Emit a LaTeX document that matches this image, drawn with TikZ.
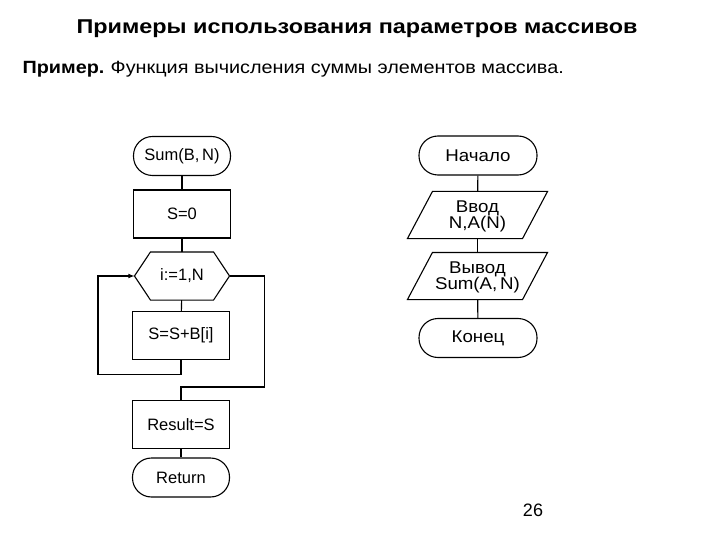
\documentclass[tikz,border=0pt]{standalone}
\usepackage{fontspec}
\setmainfont{Liberation Sans}
\newfontfamily\titlefont[FakeStretch=1.17]{Liberation Sans}
\newfontfamily\subfont[FakeStretch=1.12]{Liberation Sans}
\newfontfamily\chartfont[FakeStretch=1.1]{Liberation Sans}
\usetikzlibrary{positioning}

\tikzset{
  termbox/.style={draw, rounded corners=19pt, minimum width=97pt, minimum height=39pt, font=\fontsize{16.5}{18}\selectfont},
  procbox/.style={draw, minimum width=97pt, minimum height=48pt, font=\fontsize{16.5}{18}\selectfont},
  hexbox/.style={minimum width=94pt, minimum height=47pt, font=\fontsize{16.5}{18}\selectfont},
  iobox/.style={minimum width=139pt, minimum height=46pt, inner sep=0pt, align=center, font=\chartfont\fontsize{17}{16}\selectfont},
  startbox/.style={draw, rounded corners=19pt, minimum width=118pt, minimum height=39pt, font=\chartfont\fontsize{17}{20}\selectfont},
}

\begin{document}
\begin{tikzpicture}[x=1pt, y=-1pt, line width=1.1pt]
  \useasboundingbox (0,0) rectangle (720,540);

  % headings
  \node[anchor=base, font=\titlefont\bfseries\fontsize{20}{24}\selectfont] (title) at (357,34) {Примеры использования параметров массивов};
  \node[anchor=base west, inner sep=0pt, font=\subfont\fontsize{17.7}{20}\selectfont] (subtitle) at (22,74) {\textbf{Пример.}\hspace{-1pt} Функция вычисления суммы элементов массива.};

  % function Sum
  \node[termbox] (sum) at (182,156) {Sum(B,\,N)};
  \node[procbox] (zero) at (182,214) {S=0};
  \node[hexbox] (loop) at (182,276) {i:=1,N};
  \draw (loop.west) -- ([xshift=16pt]loop.north west) -- ([xshift=-16pt]loop.north east)
     -- (loop.east) -- ([xshift=-16pt]loop.south east) -- ([xshift=16pt]loop.south west) -- cycle;
  \node[procbox] (add) at (181,335.5) {S=S+B[i]};
  \node[procbox] (result) at (181,424.5) {Result=S};
  \node[termbox] (ret) at (181,477.5) {Return};

  \draw (sum) -- (zero);
  \draw (zero) -- (loop);
  \draw (loop) -- (add);
  \draw[-latex] (add.south) -- ++(0,14) -- ++(-83,0) |- (loop.west);
  \draw (loop.east) -- ++(35,0) -- ++(0,111) -| (result.north);
  \draw (result) -- (ret);

  % main program
  \node[startbox] (begin) at (478,155.5) {Начало};
  \node[iobox] (input) at (477.5,215) {};
  \node[font=\chartfont\fontsize{17}{16}\selectfont, align=center] (inputtext) at (477.5,216.5) {Ввод\\N,A(N)};
  \draw ([xshift=25pt]input.north west) -- (input.north east) -- ([xshift=-25pt]input.south east) -- (input.south west) -- cycle;
  \node[iobox] (output) at (477.5,276) {};
  \node[font=\chartfont\fontsize{17}{16}\selectfont, align=center] (outputtext) at (477.5,277.5) {Вывод\\Sum(A,\,N)};
  \draw ([xshift=25pt]output.north west) -- (output.north east) -- ([xshift=-25pt]output.south east) -- (output.south west) -- cycle;
  \node[startbox] (end) at (478,338) {Конец};

  \draw (begin) -- (input);
  \draw (input) -- (output);
  \draw (output) -- (end);

  \node[anchor=base, font=\fontsize{18}{20}\selectfont] (page) at (533,516) {26};
\end{tikzpicture}
\end{document}
